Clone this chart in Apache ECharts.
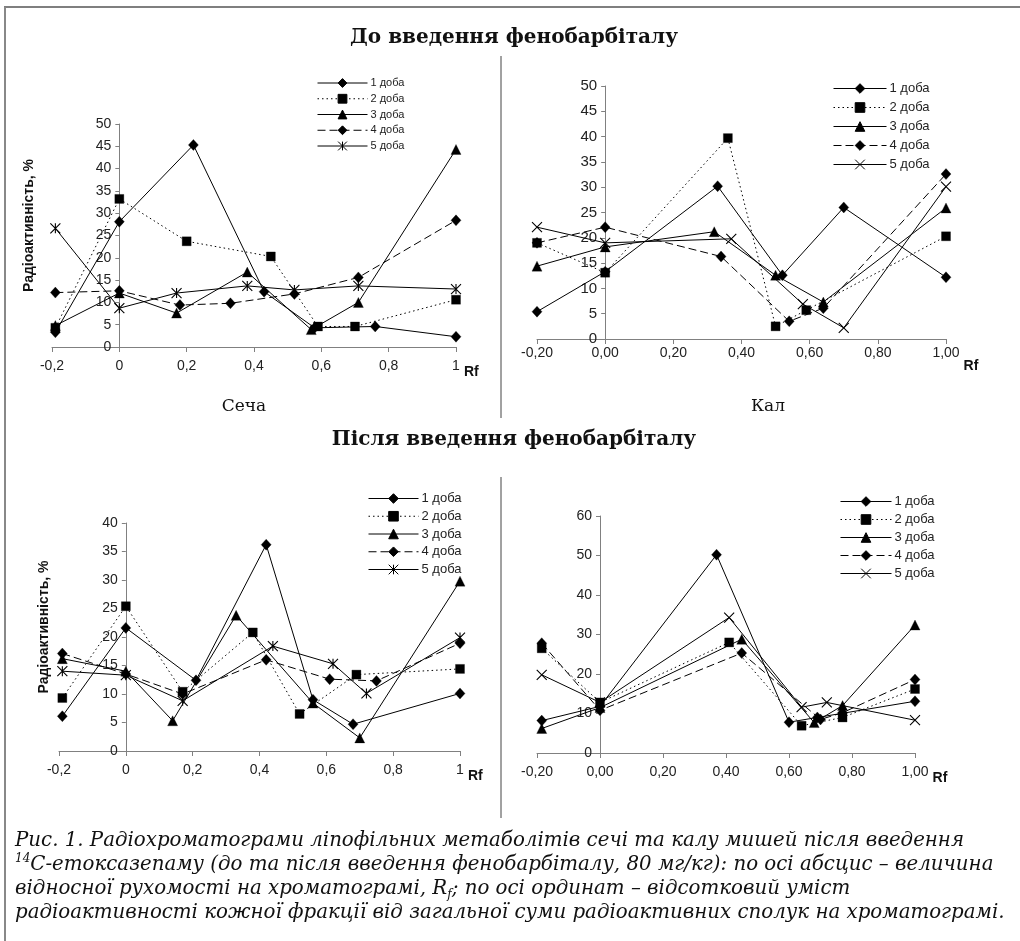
<!DOCTYPE html>
<html><head><meta charset="utf-8">
<script src="https://cdn.jsdelivr.net/npm/echarts@6/dist/echarts.min.js"></script>
<style>html,body{margin:0;padding:0;background:#fff}#c{width:1020px;height:941px}</style>
</head><body><div id="c"></div>
<script>
// ---------- data ----------
const dayNames = ['1 доба', '2 доба', '3 доба', '4 доба', '5 доба'];
const xTicksShort = ['-0,2', '0', '0,2', '0,4', '0,6', '0,8', '1'];
const xTicksLong = ['-0,20', '0,00', '0,20', '0,40', '0,60', '0,80', '1,00'];
const yAxisTitle = 'Радіоактивність, %';
const xAxisTitle = 'Rf';
const headerBefore = 'До введення фенобарбіталу';
const headerAfter = 'Після введення фенобарбіталу';
const panelLabels = ['Сеча', 'Кал'];

// Сеча, до введення
const urineBeforeDay1 = [[-0.19, 3.3], [0, 28.1], [0.22, 45.3], [0.43, 12.4], [0.58, 4.3], [0.76, 4.6], [1, 2.3]];
const urineBeforeDay2 = [[-0.19, 4.3], [0, 33.2], [0.2, 23.7], [0.45, 20.3], [0.59, 4.6], [0.7, 4.6], [1, 10.6]];
const urineBeforeDay3 = [[-0.19, 4.8], [0, 12.1], [0.17, 7.6], [0.38, 16.8], [0.57, 3.9], [0.71, 10], [1, 44.3]];
const urineBeforeDay4 = [[-0.19, 12.2], [0, 12.6], [0.18, 9.4], [0.33, 9.8], [0.52, 11.9], [0.71, 15.6], [1, 28.4]];
const urineBeforeDay5 = [[-0.19, 26.6], [0, 8.7], [0.17, 12.1], [0.38, 13.7], [0.52, 12.8], [0.71, 13.7], [1, 13]];

// Кал, до введення
const faecesBeforeDay1 = [[-0.2, 5.4], [0, 13.3], [0.33, 30.2], [0.52, 12.6], [0.7, 26], [1, 12.2]];
const faecesBeforeDay2 = [[-0.2, 19], [0, 13.1], [0.36, 39.7], [0.5, 2.5], [0.59, 5.7], [1, 20.3]];
const faecesBeforeDay3 = [[-0.2, 14.4], [0, 18.2], [0.32, 21.2], [0.5, 12.6], [0.64, 7.3], [1, 25.9]];
const faecesBeforeDay4 = [[-0.2, 19], [0, 22.1], [0.34, 16.3], [0.54, 3.5], [0.64, 6.1], [1, 32.6]];
const faecesBeforeDay5 = [[-0.2, 22.1], [0, 19], [0.37, 19.8], [0.58, 6.9], [0.7, 2.2], [1, 30.1]];

// Сеча, після введення
const urineAfterDay1 = [[-0.19, 6.1], [0, 21.6], [0.21, 12.4], [0.42, 36.2], [0.56, 9], [0.68, 4.7], [1, 10.1]];
const urineAfterDay2 = [[-0.19, 9.3], [0, 25.4], [0.17, 10.4], [0.38, 20.8], [0.52, 6.5], [0.69, 13.4], [1, 14.4]];
const urineAfterDay3 = [[-0.19, 16.2], [0, 14], [0.14, 5.3], [0.33, 23.8], [0.56, 8.4], [0.7, 2.3], [1, 29.8]];
const urineAfterDay4 = [[-0.19, 17.1], [0, 13.5], [0.17, 10], [0.42, 16], [0.61, 12.6], [0.75, 12.3], [1, 18.9]];
const urineAfterDay5 = [[-0.19, 14], [0, 13.3], [0.17, 8.8], [0.44, 18.4], [0.62, 15.3], [0.72, 10.1], [1, 19.9]];

// Кал, після введення
const faecesAfterDay1 = [[-0.185, 8.2], [0, 11.8], [0.37, 50.2], [0.6, 7.8], [0.69, 9], [1, 13.1]];
const faecesAfterDay2 = [[-0.185, 26.5], [0, 12.8], [0.41, 28], [0.64, 6.9], [0.77, 9], [1, 16.2]];
const faecesAfterDay3 = [[-0.185, 6.2], [0, 11.5], [0.45, 28.8], [0.68, 7.7], [0.77, 12], [1, 32.4]];
const faecesAfterDay4 = [[-0.185, 27.8], [0, 10.8], [0.45, 25.3], [0.7, 8.5], [0.77, 10.2], [1, 18.6]];
const faecesAfterDay5 = [[-0.185, 19.8], [0, 12.8], [0.41, 34.3], [0.64, 11.6], [0.72, 12.8], [1, 8.3]];

const yMaxes = [50, 50, 40, 60];
const yIntervals = [5, 5, 5, 10];

const captionLines = [
  'Рис. 1. Радіохроматограми ліпофільних метаболітів сечі та калу мишей після введення',
  '{sup|14}С-етоксазепаму (до та після введення фенобарбіталу, 80 мг/кг): по осі абсцис – величина',
  'відносної рухомості на хроматограмі, R{sub|f}; по осі ординат – відсотковий уміст',
  'радіоактивності кожної фракції від загальної суми радіоактивних сполук на хроматограмі.'
];

// ---------- styles / layout ----------
const panelData = [
  [urineBeforeDay1, urineBeforeDay2, urineBeforeDay3, urineBeforeDay4, urineBeforeDay5],
  [faecesBeforeDay1, faecesBeforeDay2, faecesBeforeDay3, faecesBeforeDay4, faecesBeforeDay5],
  [urineAfterDay1, urineAfterDay2, urineAfterDay3, urineAfterDay4, urineAfterDay5],
  [faecesAfterDay1, faecesAfterDay2, faecesAfterDay3, faecesAfterDay4, faecesAfterDay5]
];
const grids = [
  { left: 52, top: 124, width: 404, height: 223 },
  { left: 537, top: 86, width: 409, height: 253 },
  { left: 59, top: 523, width: 401, height: 228 },
  { left: 537, top: 516, width: 378, height: 237 }
];
const asteriskPath = 'path://M0 0L10 10M10 0L0 10M5 0L5 10';
const crossPath = 'path://M0 0L10 10M10 0L0 10';
const fifthSymbol = [asteriskPath, crossPath, asteriskPath, crossPath];
const daySymbols = ['diamond', 'rect', 'triangle', 'diamond', null];
const daySymbolSizes = [[10, 11], 9, 10, [10, 11], 10];
const dayLineTypes = ['solid', [1.5, 3], 'solid', [8, 4], 'solid'];
const uiFont = '"Liberation Sans", Arial, sans-serif';
const serifFont = '"DejaVu Serif", "Liberation Serif", serif';
const tickFontSizes = [14, 15, 14, 14];

const zw = p => '\u200b'.repeat(p);
const series = [];
panelData.forEach((arrs, p) => {
  arrs.forEach((data, d) => {
    series.push({
      type: 'line',
      name: dayNames[d] + zw(p),
      xAxisIndex: p, yAxisIndex: p,
      data: data,
      symbol: daySymbols[d] || fifthSymbol[p],
      symbolSize: daySymbolSizes[d],
      showSymbol: true,
      lineStyle: { color: '#000', width: 1, type: dayLineTypes[d] },
      itemStyle: { color: '#000', borderColor: '#000', borderWidth: d === 4 ? 1.1 : 0.3 },
      emphasis: { disabled: true },
      z: 5 - d
    });
  });
});

const xAxes = grids.map((g, p) => ({
  type: 'value', gridIndex: p, min: -0.2, max: 1, interval: 0.2,
  axisLine: { show: true, onZero: true, lineStyle: { color: '#808080', width: 1 } },
  axisTick: { show: true, length: 5, lineStyle: { color: '#808080' } },
  splitLine: { show: false },
  axisLabel: {
    show: true, margin: p === 1 ? 7 : 12, color: '#222', fontSize: 14, fontFamily: uiFont,
    showMinLabel: true, showMaxLabel: true,
    formatter: v => (p % 2 === 0 ? xTicksShort : xTicksLong)[Math.round((v + 0.2) / 0.2)]
  },
  name: xAxisTitle, nameLocation: 'end', nameGap: 8,
  nameTextStyle: { fontWeight: 'bold', fontSize: 14, fontFamily: uiFont, color: '#111',
    verticalAlign: 'top', padding: [p === 1 ? 20 : 18, 0, 0, 0] }
}));

// y axis drawn at Rf = 0 (the x axis spans -0.2 .. 1)
const yAxes = grids.map((g, p) => ({
  type: 'value', gridIndex: p, min: 0, max: yMaxes[p], interval: yIntervals[p],
  offset: -g.width * 0.2 / 1.2,
  axisLine: { show: true, onZero: false, lineStyle: { color: '#808080', width: 1 } },
  axisTick: { show: true, length: 4, lineStyle: { color: '#808080' } },
  splitLine: { show: false },
  axisLabel: { show: true, margin: 8, color: '#222', fontSize: tickFontSizes[p], fontFamily: uiFont,
    showMinLabel: true, showMaxLabel: true },
  name: p % 2 === 0 ? yAxisTitle : '',
  nameLocation: 'middle', nameRotate: 90, nameGap: p === 0 ? 83 : 75,
  nameTextStyle: { fontWeight: 'bold', fontSize: 14, fontFamily: uiFont, color: '#111',
    padding: [0, 0, 0, 20] }
}));

const legendCfg = [
  { left: 312, top: 72.5, itemWidth: 50, itemHeight: 11, itemGap: 4.75, fontSize: 11 },
  { left: 828, top: 77, itemWidth: 53, itemHeight: 12, itemGap: 6, fontSize: 13 },
  { left: 363, top: 487, itemWidth: 50, itemHeight: 12, itemGap: 4.75, fontSize: 13 },
  { left: 835, top: 490, itemWidth: 51, itemHeight: 12, itemGap: 5, fontSize: 13 }
];
const legends = legendCfg.map((c, p) => ({
  orient: 'vertical', left: c.left, top: c.top,
  itemWidth: c.itemWidth, itemHeight: c.itemHeight, itemGap: c.itemGap,
  selectedMode: false,
  data: dayNames.map(n => n + zw(p)),
  formatter: n => n.replace(/\u200b/g, ''),
  textStyle: { fontSize: c.fontSize, fontFamily: uiFont, color: '#222', lineHeight: c.itemHeight, padding: [0, 0, 0, -2] },
  lineStyle: { width: 1 },
  itemStyle: { borderWidth: 1 }
}));

const graphics = [
  { type: 'line', shape: { x1: 4, y1: 7, x2: 1020, y2: 7 }, style: { stroke: '#555', lineWidth: 1.5 } },
  { type: 'line', shape: { x1: 5, y1: 7, x2: 5, y2: 941 }, style: { stroke: '#888', lineWidth: 2 } },
  { type: 'line', shape: { x1: 501, y1: 56, x2: 501, y2: 418 }, style: { stroke: '#444', lineWidth: 1 } },
  { type: 'line', shape: { x1: 501, y1: 477, x2: 501, y2: 818 }, style: { stroke: '#444', lineWidth: 1 } },
  { type: 'text', style: { text: headerBefore, x: 514, y: 38, align: 'center', verticalAlign: 'middle',
      fontFamily: serifFont, fontWeight: 'bold', fontSize: 20, fill: '#111' } },
  { type: 'text', style: { text: headerAfter, x: 514, y: 440, align: 'center', verticalAlign: 'middle',
      fontFamily: serifFont, fontWeight: 'bold', fontSize: 20, fill: '#111' } },
  { type: 'text', style: { text: panelLabels[0], x: 244, y: 407, align: 'center', verticalAlign: 'middle',
      fontFamily: serifFont, fontSize: 17, fill: '#111' } },
  { type: 'text', style: { text: panelLabels[1], x: 768, y: 407, align: 'center', verticalAlign: 'middle',
      fontFamily: serifFont, fontSize: 17, fill: '#111' } }
];
captionLines.forEach((t, i) => {
  graphics.push({ type: 'text', style: {
    text: t, x: 15, y: 841 + i * 24, align: 'left', verticalAlign: 'middle',
    fontFamily: serifFont, fontStyle: 'italic', fontSize: 19.8, fill: '#111', lineHeight: 24,
    rich: {
      sup: { fontFamily: serifFont, fontStyle: 'italic', fontSize: 12, verticalAlign: 'top', lineHeight: 14, fill: '#111' },
      sub: { fontFamily: serifFont, fontStyle: 'italic', fontSize: 12, verticalAlign: 'bottom', lineHeight: 12, fill: '#111' }
    }
  } });
});

const chart = echarts.init(document.getElementById('c'), null, { renderer: 'canvas' });
chart.setOption({
  animation: false,
  backgroundColor: '#fff',
  grid: grids.map(g => Object.assign({ containLabel: false, outerBoundsMode: 'none' }, g)),
  xAxis: xAxes,
  yAxis: yAxes,
  legend: legends,
  series: series,
  graphic: graphics
});
</script>
</body></html>
